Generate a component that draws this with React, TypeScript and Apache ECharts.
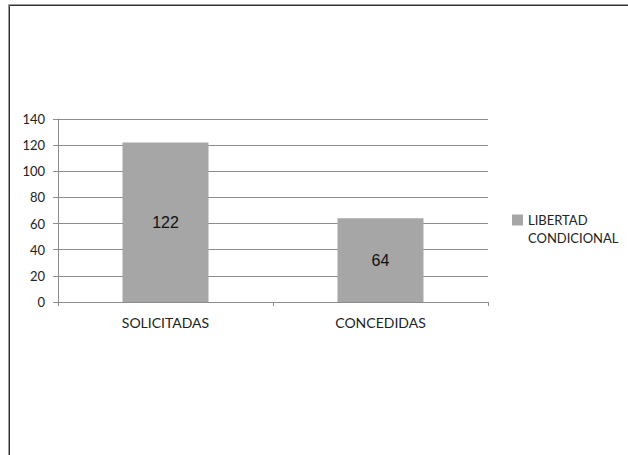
import React, { useEffect, useRef } from "react";
import * as echarts from "echarts";

const categories = ["SOLICITADAS", "CONCEDIDAS"];
const seriesName = "LIBERTAD CONDICIONAL";
const values = [122, 64];

const FONT = "Lato, 'Open Sans', sans-serif";
const LABEL_FONT = "'Liberation Sans', Arial, sans-serif";

export default function App() {
  const ref = useRef<HTMLDivElement>(null);
  useEffect(() => {
    const chart = echarts.init(ref.current!, null, { renderer: "svg" });
    chart.setOption({
      animation: false,
      backgroundColor: "#ffffff",
      textStyle: { fontFamily: FONT },
      graphic: [
        {
          type: "rect",
          shape: { x: 8.5, y: 4.5, width: 700, height: 600 },
          style: { fill: "none", stroke: "#9a9a9a", lineWidth: 1 },
          silent: true,
        },
        {
          type: "rect",
          shape: { x: 9.5, y: 5.5, width: 700, height: 600 },
          style: { fill: "none", stroke: "#333333", lineWidth: 1 },
          silent: true,
        },
      ],
      grid: { left: 58, right: 140, top: 119, bottom: 153 },
      legend: {
        show: true,
        orient: "vertical",
        left: 512,
        top: 211,
        padding: 0,
        icon: "path://M0,0L0,0M0,3.5L11,3.5L11,14.5L0,14.5ZM0,36L0,36",
        itemWidth: 11,
        itemHeight: 36,
        itemGap: 4,
        formatter: () => "LIBERTAD\nCONDICIONAL",
        textStyle: {
          fontFamily: FONT,
          fontSize: 13,
          color: "#222",
          lineHeight: 18,
        },
        data: [seriesName],
      },
      xAxis: {
        type: "category",
        data: categories,
        axisLine: { show: true, lineStyle: { color: "#8c8c8c", width: 1 } },
        axisTick: { show: true, length: 4, lineStyle: { color: "#8c8c8c" } },
        axisLabel: { fontFamily: FONT, fontSize: 14, color: "#222", margin: 13 },
      },
      yAxis: {
        type: "value",
        min: 0,
        max: 140,
        interval: 20,
        axisLine: { show: true, lineStyle: { color: "#8c8c8c", width: 1 } },
        axisTick: { show: true, length: 5, lineStyle: { color: "#8c8c8c" } },
        axisLabel: { fontFamily: FONT, fontSize: 13, color: "#222", margin: 13 },
        splitLine: { show: true, lineStyle: { color: "#8c8c8c", width: 1 } },
      },
      series: [
        {
          name: seriesName,
          type: "bar",
          data: values,
          barWidth: "40%",
          itemStyle: { color: "#a6a6a6" },
          label: {
            show: true,
            position: "inside",
            fontFamily: LABEL_FONT,
            fontSize: 16,
            color: "#111",
          },
        },
      ],
    });
    return () => chart.dispose();
  }, []);
  return (
    <div
      ref={ref}
      style={{ position: "absolute", left: 0, top: 0, width: 628, height: 455 }}
    />
  );
}
